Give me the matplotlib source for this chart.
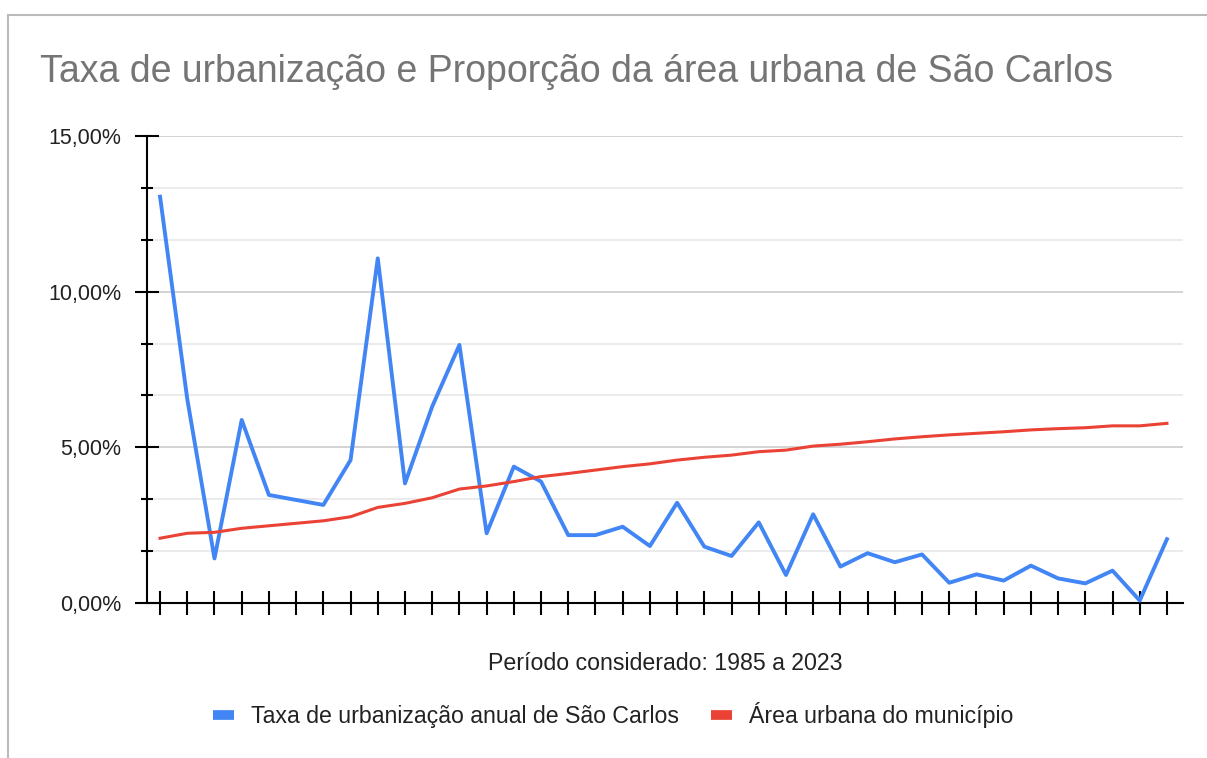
import numpy as np
import matplotlib
matplotlib.use("Agg")
import matplotlib.pyplot as plt
from matplotlib.lines import Line2D

plt.rcParams['font.family'] = ['Liberation Sans', 'DejaVu Sans']

# anos (1986..2023), valores em %
anos = list(range(1986, 2024))
taxa_urbanizacao = [13.05, 6.55, 1.43, 5.88, 3.47, 3.31, 3.15, 4.59, 11.07, 3.84,
                    6.31, 8.29, 2.24, 4.38, 3.90, 2.18, 2.18, 2.45, 1.83, 3.22,
                    1.81, 1.51, 2.59, 0.90, 2.85, 1.17, 1.60, 1.31, 1.56, 0.65,
                    0.92, 0.72, 1.20, 0.79, 0.63, 1.04, 0.08, 2.05]
area_urbana = [2.08, 2.24, 2.27, 2.40, 2.48, 2.56, 2.64, 2.77, 3.07, 3.20,
               3.38, 3.66, 3.76, 3.90, 4.06, 4.16, 4.27, 4.38, 4.47, 4.59,
               4.68, 4.75, 4.86, 4.91, 5.04, 5.10, 5.18, 5.27, 5.34, 5.40,
               5.45, 5.50, 5.56, 5.60, 5.63, 5.69, 5.69, 5.77]
y_ticks = [0, 5, 10, 15]
y_labels = ['0,00%', '5,00%', '10,00%', '15,00%']

W, H = 1207, 758
fig = plt.figure(figsize=(W / 100, H / 100), dpi=100)
ax = fig.add_axes([147 / W, 1 - 603 / H, (1183 - 147) / W, (603 - 136) / H])

ax.plot(anos, taxa_urbanizacao, color='#4285F4', lw=2.8,
        label='Taxa de urbanização anual de São Carlos', zorder=3)
ax.plot(anos, area_urbana, color='#EA4335', lw=2.2,
        label='Área urbana do município', zorder=3)

ax.set_xlim(1985.52, 2023.59)
ax.set_ylim(0, 15)
ax.set_xticks(anos)
ax.set_xticklabels([])
ax.set_yticks(y_ticks)
ax.set_yticklabels(y_labels)
ax.set_yticks(np.arange(0, 15, 5 / 3)[1:], minor=True)

ax.grid(axis='y', which='major', color='#cccccc', lw=1.2)
ax.grid(axis='y', which='minor', color='#e8e8e8', lw=1.2)
ax.set_axisbelow(True)

for s in ['top', 'right']:
    ax.spines[s].set_visible(False)
for s in ['left', 'bottom']:
    ax.spines[s].set_color('black')
    ax.spines[s].set_linewidth(1.5)

ax.tick_params(axis='x', direction='inout', length=17, width=1.5, color='black')
ax.tick_params(axis='y', which='major', direction='inout', length=17, width=1.5,
               color='black', labelsize=15.5, labelcolor='#222222', pad=10)
ax.tick_params(axis='y', which='minor', direction='inout', length=9, width=1.5,
               color='black')

ax.set_xlabel('Período considerado: 1985 a 2023', fontsize=16.7, color='#222222')
ax.xaxis.set_label_coords(0.5, -(663 - 603) / (603 - 136))
ax.xaxis.label.set_va('center')

fig.text(40 / W, 1 - 72 / H, 'Taxa de urbanização e Proporção da área urbana de São Carlos',
         fontsize=27, color='#757575', ha='left', va='center')

leg = fig.legend(loc='center', bbox_to_anchor=(613 / W, 1 - 715 / H), ncol=2,
                 frameon=False, fontsize=16.7, handlelength=0.9, columnspacing=1.4,
                 handletextpad=0.73)
for h in leg.legend_handles:
    h.set_linewidth(7)
    h.set_solid_capstyle('butt')
for t in leg.get_texts():
    t.set_color('#222222')

# moldura cinza do gráfico
fig.add_artist(Line2D([8 / W, 1], [1 - 15 / H, 1 - 15 / H], color='#bbbbbb', lw=1.5))
fig.add_artist(Line2D([8 / W, 8 / W], [0, 1 - 15 / H], color='#bbbbbb', lw=1.5))

fig.savefig('out.png', dpi=100, facecolor='white')
